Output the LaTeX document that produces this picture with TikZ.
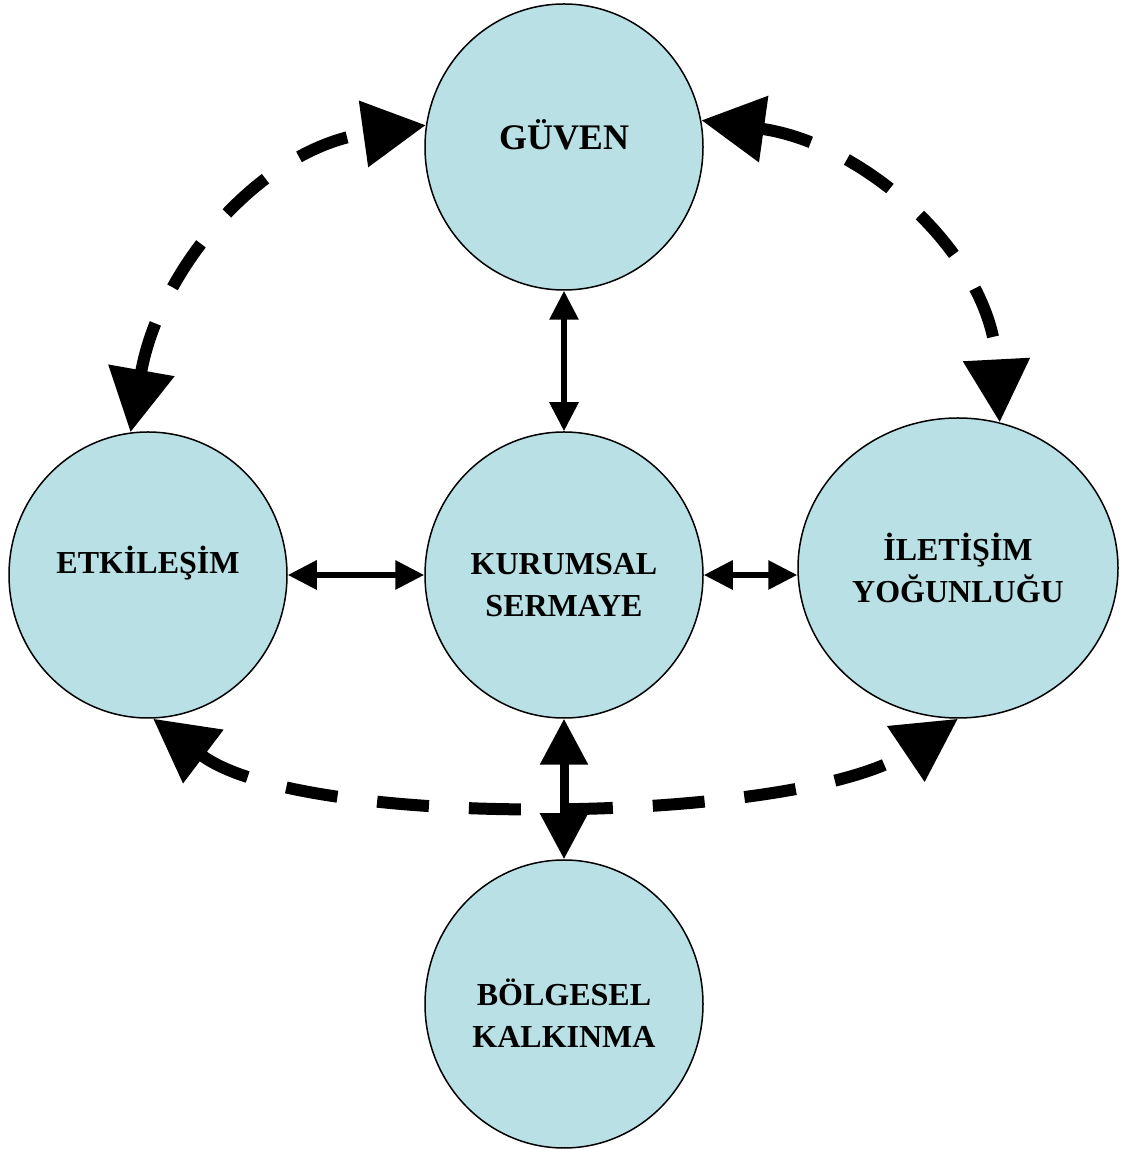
\documentclass[tikz,border=0pt]{standalone}
\usepackage{fontspec}
\setmainfont{Liberation Serif}
\usetikzlibrary{arrows.meta,shapes.geometric}
\definecolor{bubblefill}{RGB}{185,224,228}

\begin{document}
\begin{tikzpicture}[x=1pt, y=1pt,
	bubble/.style={fill=bubblefill, draw=black, line width=1.5pt, shape=ellipse, align=center, inner sep=0pt,
		minimum width=278pt, minimum height=286pt, font=\fontsize{32}{42}\selectfont\bfseries},
	twoway/.style={{Triangle[length=29pt,width=28pt]}-{Triangle[length=29pt,width=28pt]}, line width=6pt},
	bigtwoway/.style={{Triangle[length=46pt,width=46pt]}-{Triangle[length=46pt,width=46pt]}, line width=9pt},
	dashtwoway/.style={{Triangle[length=63pt,width=64pt]}-{Triangle[length=63pt,width=64pt]}, line width=12pt, dash pattern=on 52pt off 40pt}]
	\useasboundingbox (0, 0) rectangle (1139, 1149);
	% circles (rules only move the text inside)
	\node [bubble, font=\fontsize{36}{42}\selectfont\bfseries] (guven) at (564, 1002) {GÜVEN\rule[-24pt]{0pt}{24pt}};
	\node [bubble] (etkilesim) at (148, 574) {ETKİLEŞİM\rule[-30pt]{0pt}{30pt}};
	\node [bubble] (kurumsal) at (564, 574) {\rule{0pt}{41.5pt}KURUMSAL\\SERMAYE};
	\node [bubble, minimum width=320pt, minimum height=300pt] (iletisim) at (958, 581) {İLETİŞİM\\YOĞUNLUĞU};
	\node [bubble, minimum height=288pt] (bolgesel) at (564, 145) {\rule{0pt}{46pt}BÖLGESEL\\KALKINMA};
	% arrows
	\draw [twoway] (guven) to (kurumsal);
	\draw [twoway] (etkilesim) to (kurumsal);
	\draw [twoway] (kurumsal.east) to (kurumsal.east -| iletisim.west);
	\draw [bigtwoway] (kurumsal) to (bolgesel);
	\draw [dashtwoway] (etkilesim.97) to [out=80, in=188] (guven.171);
	\draw [dashtwoway] (guven.11) to [out=-8, in=93] (iletisim.74);
	\draw [dashtwoway] (etkilesim.-88) to [out=-37, in=-146, looseness=0.6] (iletisim.south);
\end{tikzpicture}
\end{document}
